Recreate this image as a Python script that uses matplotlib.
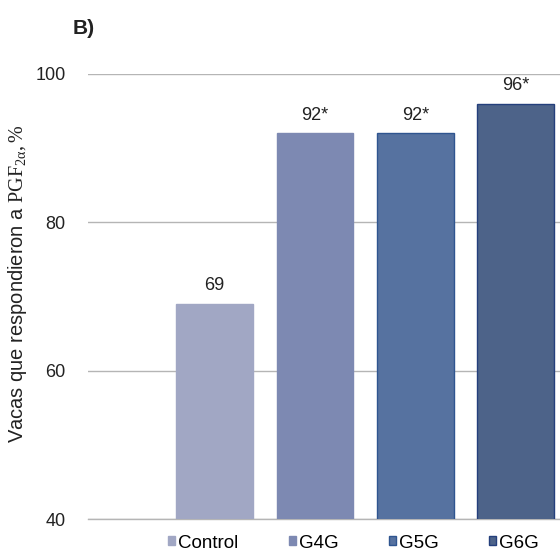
import numpy as np
import matplotlib
matplotlib.use("Agg")
import matplotlib.pyplot as plt
from matplotlib.patches import Patch

plt.rcParams['font.family'] = ['Liberation Sans', 'DejaVu Sans']
plt.rcParams['mathtext.fontset'] = 'custom'
plt.rcParams['mathtext.rm'] = 'Liberation Serif'
plt.rcParams['mathtext.it'] = 'Liberation Serif:italic'

# Response to PGF2a by treatment group
groups = ["Control", "G4G", "G5G", "G6G"]
values = [69, 92, 92, 96]
labels = ["69", "92*", "92*", "96*"]

fill_colors = ["#a1a7c4", "#7d89b2", "#5672a0", "#4d6389"]
edge_colors = ["#a1a7c4", "#7d89b2", "#2f5590", "#243f7c"]

W, H = 560, 556
fig = plt.figure(figsize=(W/100, H/100), dpi=100)
ax = fig.add_axes([88/W, 1 - 519/H, (W - 88)/W, (519 - 74)/H])

x = np.arange(len(groups))
ax.bar(x, values, width=0.766, color=fill_colors,
       edgecolor=edge_colors, linewidth=1.0, zorder=3)

for xi, v, lab in zip(x, values, labels):
    ax.text(xi, v + 1.3, lab, ha='center', va='bottom', fontsize=13, color='#222222')

ax.set_ylim(40, 100)
ax.set_xlim(-1.259, 3.438)
ax.set_yticks([40, 60, 80, 100])
ax.set_xticks([])
ax.grid(axis='y', color='#b5b5b5', linewidth=1.0, zorder=0)
for side in ["top", "right", "left"]:
    ax.spines[side].set_visible(False)
ax.spines["bottom"].set_color('#b5b5b5')
ax.spines["bottom"].set_linewidth(1.0)
ax.tick_params(axis='y', length=0, pad=16, labelsize=13, labelcolor='#222222')

ax.set_ylabel("Vacas que respondieron a " + r"$\mathrm{PGF_{2\alpha}, \%}$",
              fontsize=14.5, color='#222222')
ax.yaxis.set_label_coords(-(88 - 29)/(W - 88), (519 - 284)/(519 - 74))

handles = [Patch(facecolor=fc, edgecolor=ec, linewidth=1.0)
           for fc, ec in zip(fill_colors, edge_colors)]
fig.legend(handles, groups, ncol=4, loc='center left',
           bbox_to_anchor=(168/W, 1 - 543/H), frameon=False,
           fontsize=13.5, handlelength=0.38, handleheight=0.38,
           handletextpad=0.15, columnspacing=2.7, borderaxespad=0, borderpad=0)

fig.text(73/W, 1 - 28/H, "B)", fontsize=15, fontweight='bold',
         ha='left', va='center', color='#222222')

fig.savefig("out.png", dpi=100)
